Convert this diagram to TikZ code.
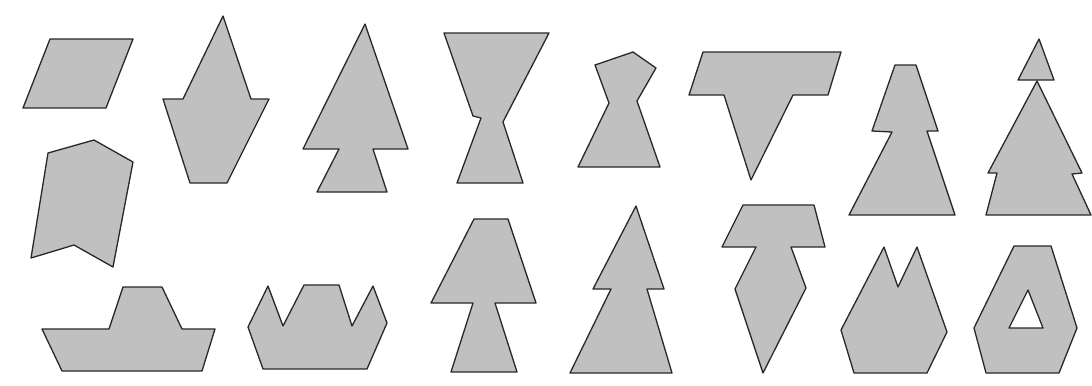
\documentclass[tikz,border=0pt]{standalone}
\usepackage{tikz}
\definecolor{piecegray}{RGB}{192,192,192}
\definecolor{pieceline}{RGB}{40,40,40}
\tikzset{piece/.style={fill=piecegray, draw=pieceline, line width=1.3bp}}

\begin{document}
\begin{tikzpicture}[x=1bp, y=1bp, line cap=round, line join=round]
  \useasboundingbox (0,0) rectangle (1092,-385);
  % top row, left column
  \path[piece] (50,-39) -- (133,-39) -- (106,-108) -- (23,-108) -- cycle;
  \path[piece] (48,-153) -- (94,-140) -- (133,-162) -- (113,-267) -- (74,-245) -- (31,-258) -- cycle;
  \path[piece] (223,-16) -- (251,-99) -- (269,-99) -- (227,-183) -- (190,-183) -- (163,-99) -- (183,-99) -- cycle;
  \path[piece] (365,-24) -- (408,-149) -- (373,-149) -- (387,-192) -- (317,-192) -- (339,-149) -- (303,-149) -- cycle;
  \path[piece] (444,-33) -- (549,-33) -- (505,-118) -- (503,-122) -- (523,-183) -- (457,-183) -- (481,-118) -- (473,-116) -- cycle;
  \path[piece] (595,-65) -- (633,-52) -- (656,-68) -- (637,-101) -- (660,-167) -- (578,-167) -- (609,-103) -- cycle;
  \path[piece] (703,-52) -- (841,-52) -- (828,-95) -- (793,-95) -- (751,-180) -- (724,-95) -- (689,-95) -- cycle;
  \path[piece] (895,-65) -- (916,-65) -- (938,-131) -- (927,-131) -- (955,-215) -- (849,-215) -- (892,-132) -- (872,-131) -- cycle;
  \path[piece] (1039,-39) -- (1054,-80) -- (1018,-80) -- cycle;
  \path[piece] (1037,-81) -- (1082,-173) -- (1072,-174) -- (1091,-215) -- (986,-215) -- (997,-173) -- (988,-173) -- cycle;
  % bottom row
  \path[piece] (42,-329) -- (109,-329) -- (123,-287) -- (162,-287) -- (182,-329) -- (215,-329) -- (202,-371) -- (62,-371) -- cycle;
  \path[piece] (268,-286) -- (283,-326) -- (304,-285) -- (339,-285) -- (352,-326) -- (373,-286) -- (387,-323) -- (367,-369) -- (263,-369) -- (248,-327) -- cycle;
  \path[piece] (474,-219) -- (508,-219) -- (536,-303) -- (495,-303) -- (517,-372) -- (451,-372) -- (473,-303) -- (431,-303) -- cycle;
  \path[piece] (636,-206) -- (664,-289) -- (647,-289) -- (672,-373) -- (570,-373) -- (611,-289) -- (593,-289) -- cycle;
  \path[piece] (743,-205) -- (814,-205) -- (825,-247) -- (791,-247) -- (806,-288) -- (763,-373) -- (735,-289) -- (756,-247) -- (722,-247) -- cycle;
  \path[piece] (884,-247) -- (898,-287) -- (917,-247) -- (947,-332) -- (927,-373) -- (854,-373) -- (841,-330) -- cycle;
  \path[piece, even odd rule] (1014,-246) -- (1051,-246) -- (1077,-328) -- (1059,-373) -- (986,-373) -- (974,-328) -- cycle
    (1028,-290) -- (1043,-328) -- (1009,-328) -- cycle;
\end{tikzpicture}
\end{document}
